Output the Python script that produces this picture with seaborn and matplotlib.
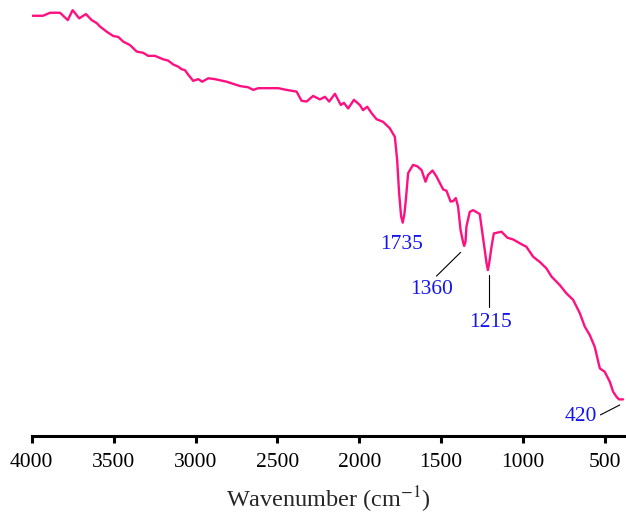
import matplotlib
matplotlib.use("Agg")
import matplotlib.pyplot as plt
import seaborn as sns
import pandas as pd

# Data (wavenumber in cm^-1, transmittance in arbitrary %)
wavenumber = [4000, 3931, 3888, 3827, 3780, 3750, 3710, 3669, 3634, 3603,
              3583, 3542, 3502, 3472, 3441, 3400, 3359, 3319, 3289, 3248,
              3197, 3167, 3136, 3106, 3085, 3065, 3044, 3014, 2983, 2959,
              2922, 2882, 2810, 2729, 2678, 2648, 2617, 2566, 2495, 2444,
              2383, 2353, 2322, 2282, 2241, 2210, 2184, 2149, 2113, 2094,
              2068, 2033, 1997, 1977, 1952, 1925, 1895, 1855, 1814, 1783,
              1769, 1757, 1745, 1735, 1725, 1716, 1702, 1672, 1647, 1620,
              1596, 1580, 1553, 1529, 1488, 1468, 1443, 1427, 1411, 1397,
              1382, 1368, 1360, 1352, 1346, 1326, 1305, 1265, 1240, 1223,
              1215, 1207, 1193, 1179, 1132, 1096, 1061, 1020, 980, 939,
              899, 858, 827, 776, 736, 695, 654, 624, 593, 563,
              532, 502, 471, 451, 430, 415, 390]
transmittance = [97.5, 97.5, 98.2, 98.2, 96.5, 98.8, 96.9, 97.9, 96.5, 95.8,
                 95.0, 93.8, 92.8, 92.6, 91.5, 90.7, 89.2, 88.9, 88.2, 88.2,
                 87.4, 87.1, 86.2, 85.7, 85.1, 84.9, 83.8, 82.4, 82.8, 82.2,
                 83.0, 82.8, 82.2, 81.2, 80.9, 80.3, 80.7, 80.7, 80.7, 80.3,
                 79.9, 77.8, 77.6, 78.9, 78.1, 78.7, 77.6, 79.4, 76.8, 77.3,
                 76.0, 78.0, 76.8, 75.6, 76.4, 74.9, 73.5, 72.9, 71.4, 69.4,
                 64.0, 56.3, 51.0, 49.5, 51.5, 54.8, 61.0, 62.9, 62.6, 61.7,
                 59.0, 60.6, 61.6, 60.2, 57.2, 56.9, 54.4, 54.5, 55.2, 53.2,
                 47.8, 45.2, 44.1, 45.0, 48.6, 52.0, 52.4, 51.5, 44.7, 40.0,
                 38.5, 40.2, 43.9, 47.0, 47.4, 46.0, 45.6, 44.7, 43.9, 41.6,
                 40.4, 38.9, 37.0, 35.0, 33.1, 31.6, 28.5, 25.4, 23.4, 20.7,
                 15.7, 14.9, 12.6, 10.3, 9.1, 8.5, 8.5]

x_ticks = [4000, 3500, 3000, 2500, 2000, 1500, 1000, 500]
peak_labels = ["1735", "1360", "1215", "420"]

df = pd.DataFrame({"Wavenumber": wavenumber, "T": transmittance})

sns.set_style("white")
plt.rcParams["font.family"] = ["Liberation Serif", "DejaVu Serif"]
plt.rcParams["mathtext.fontset"] = "stix"

fig = plt.figure(figsize=(6.26, 5.24), dpi=100)
ax = fig.add_axes([31.7 / 626, 88 / 524, 593 / 626, 431 / 524])

sns.lineplot(data=df, x="Wavenumber", y="T", ax=ax, color="#FF1080",
             linewidth=1.7, sort=False, estimator=None)

ax.set_xlim(4000, 380)
ax.set_ylim(0, 100)
ax.set_xticks(x_ticks)
ax.set_xticklabels([str(t) for t in x_ticks])
ax.set_yticks([])
ax.set_ylabel("")
ax.set_xlabel("Wavenumber (cm$^{-1}$)", fontsize=17.5, labelpad=9)

for s in ["top", "right", "left"]:
    ax.spines[s].set_visible(False)
ax.spines["bottom"].set_linewidth(2.2)
ax.spines["bottom"].set_color("black")
ax.tick_params(axis="x", direction="out", length=5, width=2.2, labelsize=15.5,
               pad=7, bottom=True, colors="black")

blue = "#1414F0"
# 1735
ax.text(1742, 44.5, peak_labels[0], color=blue, fontsize=15.5, ha="center", va="center")
# 1360
ax.plot([1529, 1382], [37.1, 42.6], color="black", lw=0.8)
ax.text(1559, 34.0, peak_labels[1], color=blue, fontsize=15.5, ha="center", va="center")
# 1215
ax.plot([1210, 1210], [37.4, 30.0], color="black", lw=0.8)
ax.text(1199, 26.3, peak_labels[2], color=blue, fontsize=15.5, ha="center", va="center")
# 420
ax.plot([528, 410], [4.9, 7.2], color="black", lw=0.8)
ax.text(650, 4.5, peak_labels[3], color=blue, fontsize=15.5, ha="center", va="center")

fig.savefig("out.png", dpi=100)
